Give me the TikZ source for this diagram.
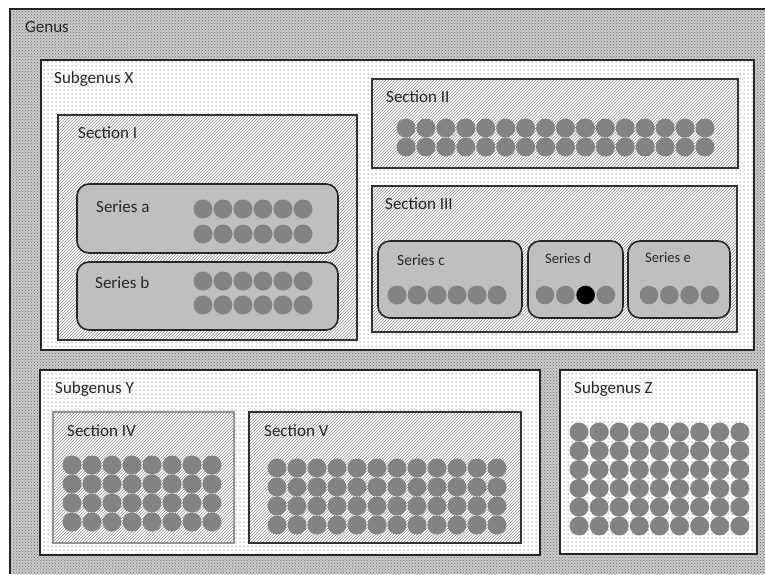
\documentclass[tikz,border=0pt]{standalone}
\usepackage{fontspec}
\setmainfont{Carlito}
\usetikzlibrary{patterns}
\pgfdeclarepatternformonly{subdots}{\pgfpoint{-1pt}{-1pt}}{\pgfpoint{1pt}{1pt}}{\pgfpoint{4pt}{4pt}}%
  {\pgfpathcircle{\pgfpointorigin}{0.75pt}\pgfusepath{fill}}

\begin{document}
\begin{tikzpicture}[x=1pt,y=-1pt,
  genusbox/.style={preaction={fill=gray!40},pattern=crosshatch dots,pattern color=black!60},
  subbox/.style={draw=black!85,line width=1.6pt,preaction={fill=white},pattern=subdots,pattern color=black!35},
  secbox/.style={draw=black!80,line width=1.6pt,preaction={fill=white},pattern=north east lines,pattern color=black!45},
  serbox/.style={draw=black!85,line width=1.6pt,fill=gray!50,rounded corners=12pt},
  lbl/.style={anchor=base west,inner sep=0pt,font=\fontsize{17}{19}\selectfont,text=black!85},
  sml/.style={lbl,font=\fontsize{14.5}{16}\selectfont},
  dot/.style={fill=gray!97}]
\useasboundingbox (0,0) rectangle (765,574);
% genus
\fill[genusbox] (10,9) rectangle (765,574);
\draw[black!85,line width=1.8pt] (10,574) |- (765,9);
\node[lbl] (genus) at (25,32) {Genus};
% subgenus X
\draw[subbox] (41,60) rectangle (754,350);
\node[lbl] (subX) at (54,83) {Subgenus X};
\draw[secbox] (58,115) rectangle (357,340);
\node[lbl] (secI) at (78,138) {Section I};
\draw[serbox] (77,184) rectangle (338,253);
\node[lbl] (serA) at (96,212) {Series a};
\draw[serbox] (77,262) rectangle (338,330);
\node[lbl] (serB) at (95,288) {Series b};
\foreach \i in {0,...,5}
  \foreach \y in {209,234,281,305}
    \fill[dot] (203+20*\i,\y) circle (9.5pt);
\draw[secbox] (372,79) rectangle (738,168);
\node[lbl] (secII) at (386,102) {Section II};
\foreach \i in {0,...,15}
  \foreach \y in {128,147}
    \fill[dot] (406+19.93*\i,\y) circle (9.5pt);
\draw[secbox] (372,186) rectangle (737,332);
\node[lbl] (secIII) at (385,209) {Section III};
\draw[serbox] (378,241) rectangle (522,318);
\node[sml,font=\fontsize{15.5}{17}\selectfont] (serC) at (397,265) {Series c};
\foreach \i in {0,...,5}
  \fill[dot] (397+20*\i,295) circle (9.5pt);
\draw[serbox] (528,241) rectangle (623,318);
\node[sml] (serD) at (545,263) {Series d};
\foreach \i in {0,1,3}
  \fill[dot] (545+20.3*\i,295) circle (9.3pt);
\fill[black] (585.6,295) circle (9.3pt);
\draw[serbox] (628,241) rectangle (730,318);
\node[sml] (serE) at (645,262) {Series e};
\foreach \i in {0,...,3}
  \fill[dot] (649+20.3*\i,295) circle (9.3pt);
% subgenus Y
\draw[subbox] (40,370) rectangle (540,555);
\node[lbl] (subY) at (55,393) {Subgenus Y};
\draw[secbox,draw=gray!85] (53,412) rectangle (234,543);
\node[lbl] (secIV) at (67,436) {Section IV};
\foreach \i in {0,...,7}
  \foreach \y in {465,484,503,522}
    \fill[dot] (72+20*\i,\y) circle (9.5pt);
\draw[secbox] (249,412) rectangle (521,543);
\node[lbl] (secV) at (264,436) {Section V};
\foreach \i in {0,...,11}
  \foreach \y in {468,487,506,525}
    \fill[dot] (277+20*\i,\y) circle (9.5pt);
% subgenus Z
\draw[subbox] (560,370) rectangle (757,554);
\node[lbl] (subZ) at (574,393) {Subgenus Z};
\foreach \i in {0,...,8}
  \foreach \j in {0,...,5}
    \fill[dot] (579+20.1*\i,432+18.8*\j) circle (9.5pt);
\end{tikzpicture}
\end{document}
